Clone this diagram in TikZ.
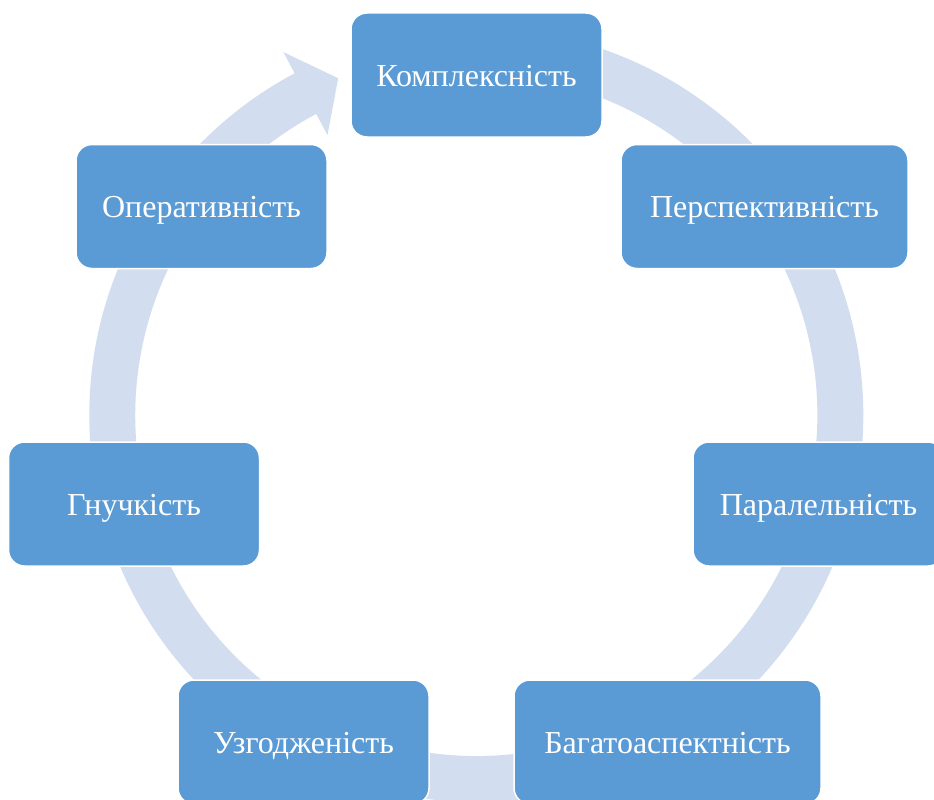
\documentclass[tikz,border=0pt]{standalone}
\usepackage{fontspec}
\setmainfont{Liberation Serif}
\newfontfamily\stagefont{Liberation Serif}
\definecolor{ringblue}{HTML}{D2DEEF}
\definecolor{boxblue}{HTML}{5B9BD5}
\begin{document}
\begin{tikzpicture}[x=1pt,y=1pt,
  stage/.style={draw=white, line width=1.5pt, fill=boxblue, rounded corners=16pt,
    minimum width=251pt, minimum height=124pt, inner xsep=8pt,
    text height=28pt, text depth=6pt,
    text=white, font=\stagefont\fontsize{32}{38}\selectfont},
  wide/.style={minimum width=#1}]
\useasboundingbox (0,0) rectangle (934,-800);
\fill[white] (0,0) rectangle (934,-800);
\clip (0,0) rectangle (934,-800);

% circular arrow running clockwise behind the stages
\begin{scope}[shift={(476.3,-415)}]
  \fill[ringblue]
    (95:387) arc[start angle=95, end angle=-242, radius=387]
    -- (118:411) -- (112.3:364) -- (118:317) -- (118:341)
    arc[start angle=-242, end angle=95, radius=341] -- cycle;
\end{scope}

% stages
\node[stage] (kompl) at (476.5,-75) {Комплексність};
\node[stage, wide=287pt] (persp) at (764.5,-206.5) {Перспективність};
\node[stage] (paral) at (818.5,-504) {Паралельність};
\node[stage, wide=307pt] (bahat) at (667.5,-742) {Багатоаспектність};
\node[stage] (uzhod) at (303.5,-742) {Узгодженість};
\node[stage] (hnuch) at (134,-504) {Гнучкість};
\node[stage] (operat) at (201.5,-206.5) {Оперативність};
\end{tikzpicture}
\end{document}
